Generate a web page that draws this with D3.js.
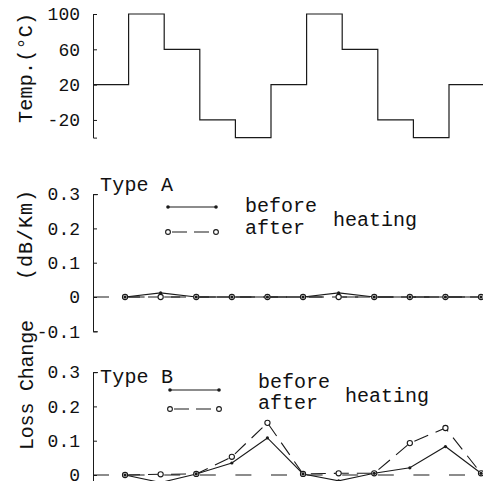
<!DOCTYPE html>
<html><head><meta charset="utf-8">
<script src="https://cdn.jsdelivr.net/npm/d3@7"></script>
<style>
html,body{margin:0;padding:0;background:#fff;}
svg{display:block;}
text{font-family:"Liberation Mono","DejaVu Sans Mono",monospace;fill:#111;}
</style></head><body>
<script>
// ---- data ----
const steps = [0,1,2,3,4,5,6,7,8,9,10,11];
const temps = [20,100,60,-20,-40,20,100,60,-20,-40,20,20];
const tempTicks = [100,60,20,-20];
const times = [0.9,1.9,2.9,3.9,4.9,5.9,6.9,7.9,8.9,9.9,10.9];
const typeABefore = [0,0.012,0,0,0,0,0.012,0,0,0,0];
const typeAAfter  = [0,0,0,0,0,0,0,0,0,0,0];
const typeBBefore = [0,-0.022,0.003,0.035,0.108,0.003,-0.017,0.005,0.021,0.083,0.005];
const typeBAfter  = [0,0.002,0.003,0.053,0.152,0.003,0.005,0.005,0.093,0.137,0.005];
const lossTicks = [0.3,0.2,0.1,0,-0.1];

const W=483,H=481;
const svg=d3.select("body").append("svg").attr("width",W).attr("height",H);
const ink="#1a1a1a";
const x=d3.scaleLinear().domain([0,11]).range([93,484.6]);

// ---- temperature panel ----
const yT=d3.scaleLinear().domain([-40,100]).range([137.6,14]);
const axT=svg.append("g").attr("transform","translate(93,0)")
  .call(d3.axisLeft(yT).tickValues(tempTicks).tickSize(-4).tickSizeOuter(-4).tickPadding(13).tickFormat(d=>String(d)));
axT.selectAll("text").attr("font-size",18).attr("fill","#111").style("font-family","Liberation Mono");
axT.selectAll("path,line").attr("stroke",ink).attr("stroke-width",1);
svg.append("path").datum(steps.map((s,i)=>[s,temps[i]]))
  .attr("d",d3.line().x(d=>x(d[0])).y(d=>yT(d[1])).curve(d3.curveStepAfter))
  .attr("fill","none").attr("stroke",ink).attr("stroke-width",1.2);
svg.append("text").attr("transform","translate(32,68) rotate(-90)")
  .attr("text-anchor","middle").attr("font-size",20).attr("textLength",110).attr("lengthAdjust","spacing")
  .text("Temp.(°C)");

// ---- loss panels ----
function panel(zeroY, before, after, label, lg){
  const y=d3.scaleLinear().domain([-0.1,0.3]).range([zeroY+34.3,zeroY-102.9]);
  const ax=svg.append("g").attr("transform","translate(93,0)")
    .call(d3.axisLeft(y).tickValues(lossTicks).tickSize(-4).tickSizeOuter(-5).tickPadding(13)
      .tickFormat(d=>d===0?"0":d.toFixed(1)));
  ax.selectAll("text").attr("font-size",18).attr("fill","#111").style("font-family","Liberation Mono");
  ax.selectAll("path,line").attr("stroke",ink).attr("stroke-width",1);
  // zero reference
  svg.append("line").attr("x1",x(0)).attr("x2",x(11)).attr("y1",y(0)).attr("y2",y(0))
    .attr("stroke",ink).attr("stroke-width",1.1).attr("stroke-dasharray","16,19.6");
  const line=d3.line().x(d=>x(d[0])).y(d=>y(d[1]));
  const bPts=times.map((t,i)=>[t,before[i]]);
  const aPts=times.map((t,i)=>[t,after[i]]);
  svg.append("path").datum(aPts).attr("d",line).attr("fill","none").attr("stroke",ink)
    .attr("stroke-width",1.1).attr("stroke-dasharray","15,8");
  svg.append("path").datum(bPts).attr("d",line).attr("fill","none").attr("stroke",ink).attr("stroke-width",1.1);
  svg.append("g").selectAll("circle").data(aPts).join("circle")
    .attr("cx",d=>x(d[0])).attr("cy",d=>y(d[1])).attr("r",2.6)
    .attr("fill","#fff").attr("stroke",ink).attr("stroke-width",1.1);
  svg.append("g").selectAll("circle").data(bPts).join("circle")
    .attr("cx",d=>x(d[0])).attr("cy",d=>y(d[1])).attr("r",1.6).attr("fill",ink);
  // label
  svg.append("text").attr("x",100).attr("y",lg.labelY).attr("font-size",20)
    .attr("textLength",73).attr("lengthAdjust","spacing").text(label);
  // legend
  svg.append("line").attr("x1",lg.lx1).attr("x2",lg.lx2).attr("y1",lg.by).attr("y2",lg.by)
    .attr("stroke",ink).attr("stroke-width",1.1);
  [lg.lx1,lg.lx2].forEach(cx=>svg.append("circle").attr("cx",cx).attr("cy",lg.by).attr("r",1.8).attr("fill",ink));
  svg.append("line").attr("x1",lg.lx1).attr("x2",lg.lx2).attr("y1",lg.ay).attr("y2",lg.ay)
    .attr("stroke",ink).attr("stroke-width",1.1).attr("stroke-dasharray","0,4,15,7,15,10");
  [lg.lx1,lg.lx2].forEach(cx=>svg.append("circle").attr("cx",cx).attr("cy",lg.ay).attr("r",2.4)
    .attr("fill","#fff").attr("stroke",ink).attr("stroke-width",1.1));
  svg.append("text").attr("x",lg.tx).attr("y",lg.bty).attr("font-size",20).text("before");
  svg.append("text").attr("x",lg.tx).attr("y",lg.aty).attr("font-size",20).text("after");
  svg.append("text").attr("x",lg.hx).attr("y",lg.hy).attr("font-size",20).text("heating");
}
panel(297, typeABefore, typeAAfter, "Type A",
  {labelY:191, lx1:168, lx2:216, by:207, ay:232, tx:245, bty:212, aty:234, hx:333, hy:226});
panel(475, typeBBefore, typeBAfter, "Type B",
  {labelY:383, lx1:170, lx2:219, by:390, ay:409, tx:258, bty:388, aty:409, hx:345, hy:402});

svg.append("text").attr("transform","translate(32,235) rotate(-90)")
  .attr("text-anchor","middle").attr("font-size",20).attr("textLength",90).attr("lengthAdjust","spacing")
  .text("(dB/Km)");
svg.append("text").attr("transform","translate(33,385) rotate(-90)")
  .attr("text-anchor","middle").attr("font-size",20).attr("textLength",130).attr("lengthAdjust","spacing")
  .text("Loss Change");
</script>
</body></html>
